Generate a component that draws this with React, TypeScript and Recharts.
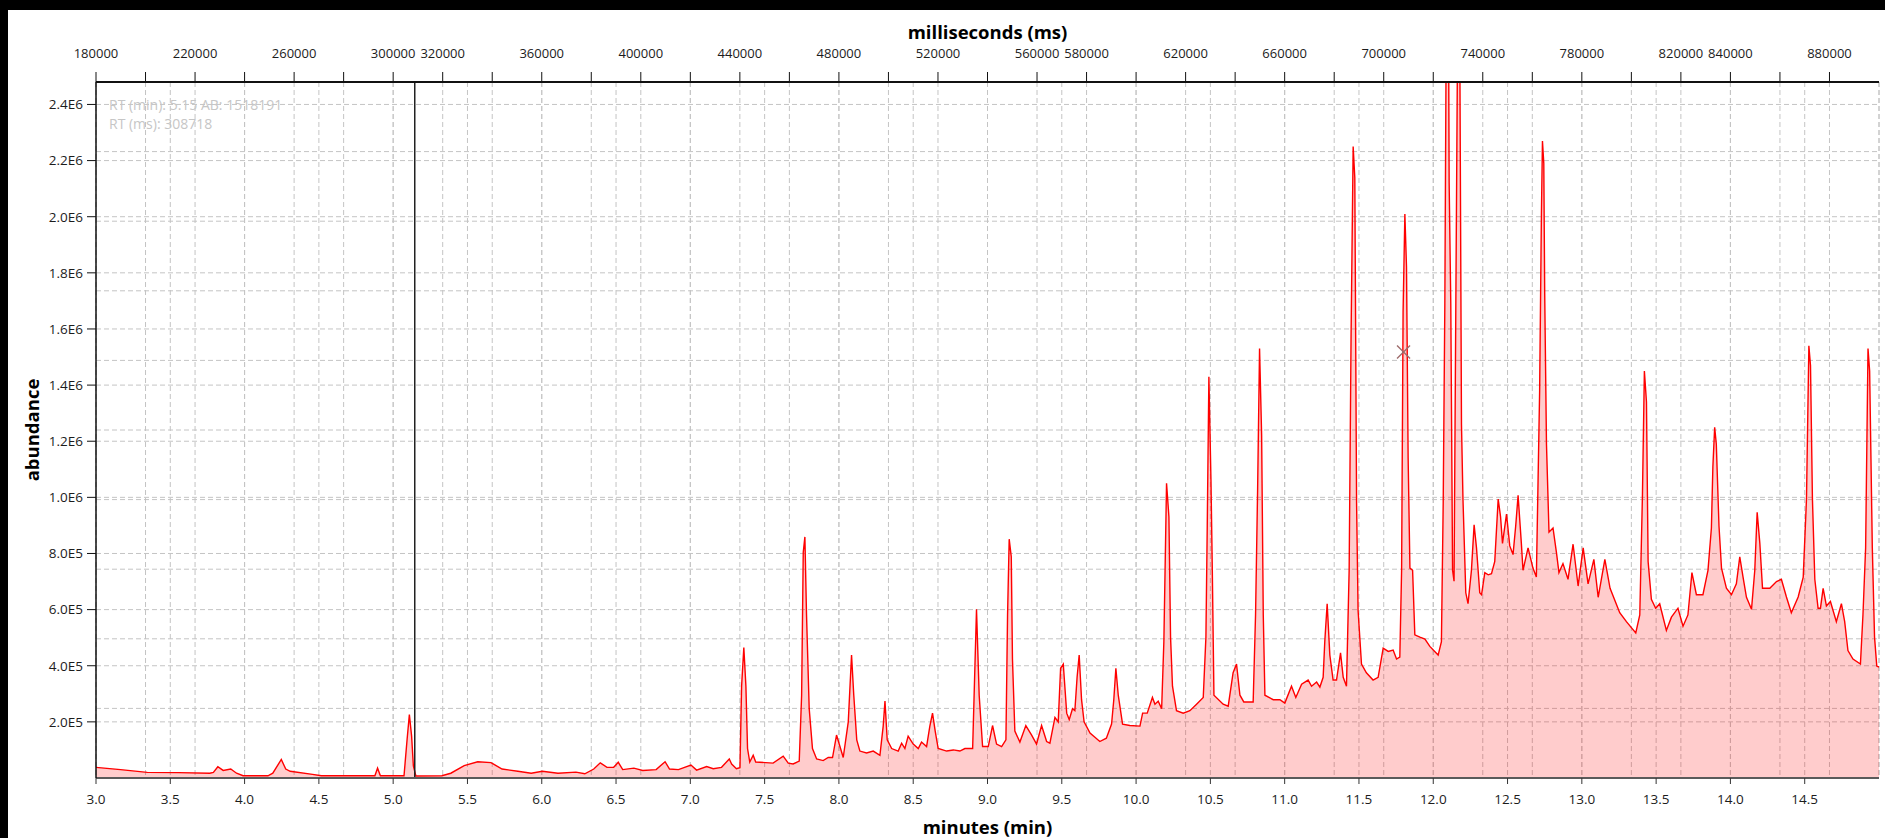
import React from 'react';
import { ComposedChart, Area, Line, XAxis, YAxis, CartesianGrid, ReferenceLine, ReferenceDot } from 'recharts';

// retention time (min) and total ion abundance
const rtMinutes = [
  3.0, 3.165, 3.345, 3.556, 3.766, 3.79, 3.82, 3.856, 3.907, 3.946, 3.99, 4.157, 4.19, 4.247, 4.277, 4.307,
  4.457, 4.517, 4.877, 4.895, 4.914, 5.073, 5.094, 5.109, 5.124, 5.136, 5.153, 5.328, 5.388, 5.478, 5.569, 5.658,
  5.733, 5.839, 5.929, 6.004, 6.109, 6.23, 6.29, 6.35, 6.394, 6.439, 6.484, 6.515, 6.545, 6.62, 6.68, 6.77,
  6.83, 6.86, 6.92, 7.004, 7.042, 7.11, 7.154, 7.21, 7.262, 7.278, 7.31, 7.334, 7.345, 7.36, 7.374, 7.385,
  7.4, 7.423, 7.44, 7.557, 7.625, 7.659, 7.692, 7.733, 7.749, 7.76, 7.771, 7.782, 7.8, 7.822, 7.85, 7.894,
  7.928, 7.957, 7.984, 8.007, 8.029, 8.063, 8.085, 8.1, 8.12, 8.141, 8.186, 8.231, 8.276, 8.298, 8.31, 8.325,
  8.355, 8.399, 8.422, 8.444, 8.466, 8.5, 8.534, 8.556, 8.59, 8.612, 8.63, 8.648, 8.668, 8.725, 8.77, 8.814,
  8.848, 8.9, 8.915, 8.926, 8.944, 8.967, 9.005, 9.034, 9.061, 9.095, 9.124, 9.135, 9.146, 9.16, 9.168, 9.184,
  9.218, 9.258, 9.297, 9.33, 9.364, 9.398, 9.42, 9.454, 9.476, 9.492, 9.51, 9.533, 9.55, 9.572, 9.588, 9.603,
  9.617, 9.633, 9.65, 9.69, 9.756, 9.8, 9.835, 9.85, 9.864, 9.88, 9.909, 9.958, 10.026, 10.044, 10.075, 10.11,
  10.127, 10.149, 10.172, 10.187, 10.205, 10.221, 10.232, 10.245, 10.272, 10.317, 10.362, 10.407, 10.452, 10.47, 10.479, 10.49,
  10.504, 10.513, 10.524, 10.586, 10.62, 10.653, 10.676, 10.699, 10.725, 10.788, 10.804, 10.818, 10.831, 10.845, 10.856, 10.867,
  10.923, 10.968, 11.001, 11.046, 11.075, 11.114, 11.158, 11.181, 11.215, 11.237, 11.259, 11.27, 11.286, 11.304, 11.326, 11.349,
  11.376, 11.394, 11.416, 11.434, 11.447, 11.461, 11.472, 11.484, 11.494, 11.517, 11.55, 11.595, 11.629, 11.663, 11.697, 11.73,
  11.753, 11.775, 11.787, 11.797, 11.809, 11.82, 11.831, 11.843, 11.861, 11.876, 11.91, 11.944, 11.977, 12.033, 12.055, 12.067,
  12.078, 12.09, 12.1, 12.107, 12.118, 12.13, 12.14, 12.152, 12.167, 12.178, 12.19, 12.2, 12.219, 12.234, 12.257, 12.275,
  12.291, 12.313, 12.325, 12.347, 12.37, 12.392, 12.414, 12.437, 12.453, 12.466, 12.493, 12.515, 12.537, 12.555, 12.571, 12.593,
  12.604, 12.638, 12.671, 12.694, 12.716, 12.728, 12.735, 12.744, 12.75, 12.762, 12.779, 12.806, 12.829, 12.846, 12.873, 12.907,
  12.941, 12.975, 13.009, 13.042, 13.081, 13.11, 13.155, 13.19, 13.255, 13.3, 13.363, 13.39, 13.408, 13.421, 13.435, 13.446,
  13.468, 13.497, 13.524, 13.569, 13.603, 13.647, 13.681, 13.714, 13.741, 13.771, 13.815, 13.849, 13.872, 13.882, 13.894, 13.905,
  13.923, 13.94, 13.973, 14.007, 14.04, 14.063, 14.085, 14.108, 14.142, 14.164, 14.18, 14.198, 14.216, 14.265, 14.31, 14.343,
  14.377, 14.41, 14.456, 14.49, 14.512, 14.528, 14.539, 14.552, 14.568, 14.59, 14.606, 14.624, 14.646, 14.673, 14.713, 14.747,
  14.769, 14.791, 14.825, 14.875, 14.892, 14.91, 14.926, 14.937, 14.955, 14.97, 14.985, 15.0,
];

const abundance = [
  38000, 30000, 20000, 19000, 17000, 20000, 40000, 27000, 32000, 17000, 8000, 8000, 17000, 66000, 32000, 24000,
  13000, 8000, 8000, 35000, 8000, 8000, 139000, 226000, 150000, 43000, 7000, 8000, 17000, 44000, 58000, 55000,
  32000, 24000, 17000, 24000, 17000, 21000, 15000, 32000, 54000, 38000, 38000, 56000, 30000, 35000, 27000, 30000,
  58000, 32000, 30000, 46000, 28000, 41000, 33000, 38000, 68000, 50000, 33000, 37000, 327000, 465000, 327000, 105000,
  57000, 81000, 57000, 53000, 78000, 53000, 50000, 60000, 295000, 804000, 859000, 581000, 247000, 105000, 68000, 62000,
  73000, 73000, 153000, 112000, 73000, 200000, 438000, 295000, 136000, 96000, 89000, 96000, 81000, 185000, 274000, 136000,
  105000, 96000, 124000, 105000, 149000, 121000, 105000, 128000, 112000, 185000, 231000, 167000, 105000, 96000, 100000, 96000,
  105000, 105000, 391000, 601000, 295000, 112000, 112000, 187000, 121000, 112000, 136000, 581000, 851000, 788000, 424000, 167000,
  128000, 187000, 153000, 121000, 187000, 130000, 124000, 216000, 200000, 391000, 406000, 231000, 208000, 247000, 240000, 359000,
  438000, 279000, 200000, 160000, 130000, 142000, 192000, 279000, 391000, 295000, 192000, 187000, 185000, 231000, 231000, 287000,
  263000, 274000, 247000, 486000, 1050000, 931000, 502000, 327000, 240000, 231000, 240000, 263000, 287000, 502000, 899000, 1430000,
  1060000, 740000, 295000, 263000, 256000, 375000, 406000, 295000, 271000, 271000, 581000, 1030000, 1530000, 1220000, 581000, 295000,
  279000, 279000, 267000, 327000, 287000, 334000, 349000, 327000, 342000, 324000, 359000, 486000, 621000, 438000, 349000, 349000,
  446000, 359000, 327000, 740000, 1580000, 2250000, 2140000, 979000, 598000, 406000, 375000, 349000, 359000, 463000, 451000, 456000,
  424000, 431000, 740000, 1660000, 2010000, 1820000, 1140000, 748000, 740000, 510000, 502000, 495000, 469000, 438000, 486000, 979000,
  1690000, 2950000, 3100000, 2120000, 1690000, 740000, 701000, 1690000, 2900000, 2700000, 1260000, 994000, 660000, 621000, 740000, 902000,
  820000, 660000, 653000, 732000, 724000, 728000, 772000, 994000, 931000, 836000, 940000, 827000, 796000, 899000, 1007000, 836000,
  740000, 820000, 748000, 716000, 1380000, 2010000, 2270000, 2190000, 1730000, 1190000, 876000, 891000, 804000, 732000, 764000, 708000,
  833000, 684000, 820000, 692000, 779000, 644000, 779000, 676000, 589000, 557000, 517000, 581000, 1010000, 1450000, 1340000, 772000,
  637000, 605000, 621000, 526000, 573000, 605000, 541000, 581000, 732000, 653000, 653000, 740000, 891000, 1110000, 1250000, 1190000,
  899000, 748000, 676000, 653000, 692000, 788000, 716000, 644000, 601000, 740000, 947000, 836000, 676000, 676000, 700000, 708000,
  645000, 589000, 645000, 716000, 994000, 1540000, 1470000, 994000, 708000, 605000, 605000, 676000, 613000, 629000, 557000, 621000,
  557000, 454000, 424000, 406000, 581000, 820000, 1530000, 1450000, 820000, 502000, 399000, 395000,
];

const minuteTicks = [3.0, 3.5, 4.0, 4.5, 5.0, 5.5, 6.0, 6.5, 7.0, 7.5, 8.0, 8.5, 9.0, 9.5, 10.0, 10.5, 11.0, 11.5, 12.0, 12.5, 13.0, 13.5, 14.0, 14.5];
const msTicks = [
  180000, 200000, 220000, 240000, 260000, 280000, 300000, 320000, 340000, 360000, 380000, 400000, 420000, 440000, 460000, 480000, 500000, 520000, 540000,
  560000, 580000, 600000, 620000, 640000, 660000, 680000, 700000, 720000, 740000, 760000, 780000, 800000, 820000, 840000, 860000, 880000,
];
const msLabels = [
  180000, 220000, 260000, 300000, 320000, 360000, 400000, 440000, 480000, 520000, 560000, 580000, 620000, 660000, 700000, 740000, 780000, 820000, 840000, 880000,
];
const abundanceTicks = [200000, 400000, 600000, 800000, 1000000, 1200000, 1400000, 1600000, 1800000, 2000000, 2200000, 2400000];
const relativeTicks = [0, 10, 20, 30, 40, 50, 60, 70, 80, 90, 100];

// cursor readout
const cursorRtMs = 308718;
const cursorRtMin = 5.15;
const cursorAb = 1518191;
const markerRt = 11.8;

const MS_PER_MIN = 60000;
// same points, with the retention time also given in ms for the top axis
const chartData = rtMinutes.map((min, i) => ({ min, ms: min * MS_PER_MIN, ab: abundance[i] }));

const fmtAb = (v: number) => {
  const e = Math.floor(Math.log10(v) + 1e-9);
  return `${(v / Math.pow(10, e)).toFixed(1)}E${e}`;
};

const CrossMark = ({ cx, cy }: any) => (
  <g stroke="#9c6a6a" strokeWidth={1.3}>
    <line x1={cx - 6.5} y1={cy - 6.5} x2={cx + 6.5} y2={cy + 6.5} />
    <line x1={cx - 6.5} y1={cy + 6.5} x2={cx + 6.5} y2={cy - 6.5} />
  </g>
);

const gridColor = '#c4c4c4';
const tickStyle = { fontSize: 13.5, fill: '#1c1c1c' };
const msTickStyle = { fontSize: 13, fill: '#1c1c1c' };
const titleStyle = { fontSize: 18.5, fontWeight: 700, fill: '#000', textAnchor: 'middle' as const };

export default function App() {
  return (
    <div
      style={{
        position: 'fixed',
        left: 0,
        top: 0,
        width: 1885,
        height: 838,
        background: '#fff',
        fontFamily: "'Open Sans', sans-serif",
        overflow: 'hidden',
      }}
    >
      <ComposedChart
        width={1885}
        height={838}
        data={chartData}
        margin={{ top: 10, right: 6, bottom: 0, left: 24 }}
      >
        <XAxis
          xAxisId="min"
          dataKey="min"
          type="number"
          domain={[3, 15]}
          allowDataOverflow
          ticks={minuteTicks}
          interval={0}
          tickFormatter={(v: number) => v.toFixed(1)}
          height={60}
          tickSize={6}
          tickMargin={10}
          tick={tickStyle}
          axisLine={{ stroke: '#5a5a5a', strokeWidth: 2 }}
          tickLine={{ stroke: '#333' }}
          label={{ value: 'minutes (min)', position: 'insideBottom', offset: 4.5, style: titleStyle }}
        />
        <XAxis
          xAxisId="ms"
          dataKey="ms"
          orientation="top"
          type="number"
          domain={[180000, 900000]}
          allowDataOverflow
          ticks={msTicks}
          interval={0}
          tickFormatter={(v: number) => (msLabels.includes(v) ? String(v) : '')}
          height={72}
          tickSize={10}
          tickMargin={14}
          tick={msTickStyle}
          axisLine={{ stroke: '#111', strokeWidth: 2 }}
          tickLine={{ stroke: '#111' }}
          label={{ value: 'milliseconds (ms)', position: 'insideTop', offset: 16, style: titleStyle }}
        />
        <YAxis
          yAxisId="ab"
          type="number"
          domain={[0, 2480000]}
          allowDataOverflow
          ticks={abundanceTicks}
          interval={0}
          tickFormatter={fmtAb}
          width={72}
          tickSize={9}
          tickMargin={4}
          tick={tickStyle}
          axisLine={{ stroke: '#111', strokeWidth: 1.5 }}
          tickLine={{ stroke: '#111' }}
          label={{ value: 'abundance', angle: -90, position: 'insideLeft', offset: 8, style: titleStyle }}
        />
        <YAxis yAxisId="pct" type="number" domain={[0, 100]} allowDataOverflow ticks={relativeTicks} hide />

        <CartesianGrid xAxisId="min" yAxisId="ab" stroke={gridColor} strokeDasharray="5 3" />
        <CartesianGrid xAxisId="ms" yAxisId="pct" stroke={gridColor} strokeDasharray="5 3" />

        <Area
          xAxisId="min"
          yAxisId="ab"
          type="linear"
          dataKey="ab"
          stroke="#ff0000"
          strokeWidth={1.4}
          fill="#ff0000"
          fillOpacity={0.2}
          dot={false}
          activeDot={false}
          isAnimationActive={false}
        />
        {/* invisible twin of the trace so the ms axis gets a bound series */}
        <Line
          xAxisId="ms"
          yAxisId="ab"
          type="linear"
          dataKey="ab"
          stroke="none"
          dot={false}
          activeDot={false}
          legendType="none"
          isAnimationActive={false}
        />

        <ReferenceLine xAxisId="ms" yAxisId="ab" x={cursorRtMs} stroke="#222" strokeWidth={1.5} />
        <ReferenceDot xAxisId="min" yAxisId="ab" x={markerRt} y={cursorAb} shape={CrossMark} />
      </ComposedChart>

      <div
        style={{
          position: 'absolute',
          left: 109,
          top: 95,
          fontSize: 14,
          lineHeight: '19px',
          color: '#c6c6c6',
          pointerEvents: 'none',
        }}
      >
        <div>{`RT (min): ${cursorRtMin.toFixed(2)} AB: ${cursorAb}`}</div>
        <div>{`RT (ms): ${cursorRtMs}`}</div>
      </div>

      <div style={{ position: 'absolute', left: 0, top: 0, width: 1885, height: 10, background: '#000' }} />
      <div style={{ position: 'absolute', left: 0, top: 0, width: 8, height: 838, background: '#000' }} />
    </div>
  );
}
